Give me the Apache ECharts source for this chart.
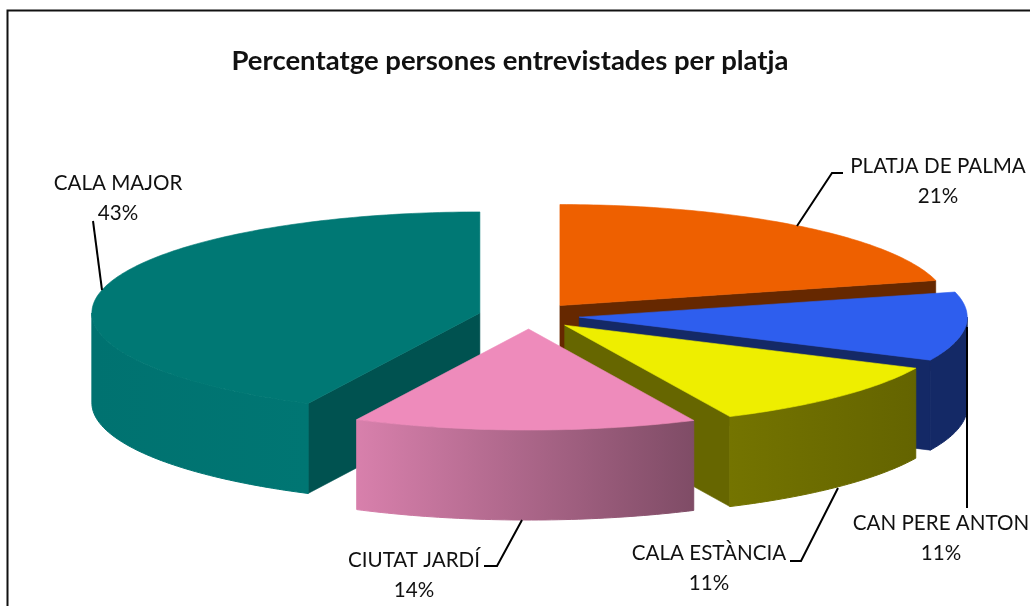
<!DOCTYPE html>
<html>
<head>
<meta charset="utf-8">
<style>
html, body { margin: 0; padding: 0; background: #fff; }
#chart { width: 1030px; height: 606px; }
</style>
<script src="https://cdn.jsdelivr.net/npm/echarts@6/dist/echarts.min.js"></script>
</head>
<body>
<div id="chart"></div>
<script>
const chartTitle = 'Percentatge persones entrevistades per platja';
const categories = ['PLATJA DE PALMA', 'CAN PERE ANTON', 'CALA ESTÀNCIA', 'CIUTAT JARDÍ', 'CALA MAJOR'];
// the labels show these rounded
const values = [21, 11, 11, 14.3, 42.7];

// top face, side walls, outer wall gradient left -> right
const topColors = ['#ee6000', '#2e5eee', '#eeee00', '#ee8bbb', '#007874'];
const sideColors = ['#662800', '#142966', '#666600', '#7f4c66', '#005250'];
const wallFrom = ['#ee6000', '#142966', '#747400', '#d880ac', '#007270'];
const wallTo = ['#662800', '#142966', '#646400', '#7f4c66', '#007673'];

// pie layout in pixels
const CX = 529, CY = 315.9, RX = 388, RY = 101, DEPTH = 90, EXPLODE = 0.13;

// label centre and leader line for each category
const labelPos = [[938, 181], [941, 538.5], [709, 568], [414, 575], [118, 198]];
const leaders = [
    [[797, 226], [832, 173], [843, 173]],
    [[967, 327], [967, 508]],
    [[838, 488], [801, 561], [790, 561]],
    [[522, 520], [497, 566], [484, 566]],
    [[93, 221], [102, 290]]
];

const total = values.reduce((a, b) => a + b, 0);
const slices = [];
let acc = 0;
values.forEach((v, i) => {
    const start = acc / total * 360;
    acc += v;
    const end = acc / total * 360;
    const mid = (start + end) / 2 * Math.PI / 180;
    slices.push({
        index: i,
        start: start,
        end: end,
        cx: CX + RX * EXPLODE * Math.sin(mid),
        cy: CY - RY * EXPLODE * Math.cos(mid)
    });
});

function rimPoint(s, deg, drop) {
    const a = deg * Math.PI / 180;
    return [s.cx + RX * Math.sin(a), s.cy - RY * Math.cos(a) + drop];
}

function arcPoints(s, from, to, drop) {
    const pts = [];
    const n = Math.max(2, Math.ceil(to - from));
    for (let k = 0; k <= n; k++) {
        pts.push(rimPoint(s, from + (to - from) * k / n, drop));
    }
    return pts;
}

function edgeWall(s, deg, color) {
    const p = rimPoint(s, deg, 0);
    return {
        type: 'polygon',
        shape: {points: [[s.cx, s.cy], p, [p[0], p[1] + DEPTH], [s.cx, s.cy + DEPTH]]},
        style: {fill: color, stroke: color, lineWidth: 0.6}
    };
}

function renderSlice(params, api) {
    const s = slices[api.value(0)];
    const i = s.index;
    const children = [];
    // edge walls facing the viewer
    if (s.end < 180) {
        children.push(edgeWall(s, s.end, sideColors[i]));
    }
    if (s.start > 180) {
        children.push(edgeWall(s, s.start, sideColors[i]));
    }
    // outer wall, front half of the rim only
    const from = Math.max(s.start, 90);
    const to = Math.min(s.end, 270);
    if (to > from) {
        const wall = arcPoints(s, from, to, 0).concat(arcPoints(s, from, to, DEPTH).reverse());
        const grad = new echarts.graphic.LinearGradient(0, 0, 1, 0, [
            {offset: 0, color: wallFrom[i]},
            {offset: 1, color: wallTo[i]}
        ]);
        children.push({
            type: 'polygon',
            shape: {points: wall},
            style: {fill: grad, stroke: grad, lineWidth: 1}
        });
    }
    children.push({
        type: 'polygon',
        shape: {points: [[s.cx, s.cy]].concat(arcPoints(s, s.start, s.end, 0))},
        style: {fill: topColors[i], stroke: topColors[i], lineWidth: 0.6}
    });
    return {type: 'group', children: children};
}

function renderLabel(params, api) {
    const i = api.value(0);
    return {
        type: 'group',
        children: [
            {
                type: 'polyline',
                shape: {points: leaders[i]},
                style: {stroke: '#000', lineWidth: 2, fill: null}
            },
            {
                type: 'text',
                x: labelPos[i][0],
                y: labelPos[i][1],
                style: {
                    text: categories[i] + '\n' + Math.round(values[i]) + '%',
                    font: '20.6px Lato',
                    lineHeight: 30,
                    fill: '#111',
                    align: 'center',
                    verticalAlign: 'middle'
                }
            }
        ]
    };
}

// painter's order, the slices furthest back first
const drawOrder = slices.slice().sort((a, b) => a.cy - b.cy).map(s => [s.index]);

const myChart = echarts.init(document.getElementById('chart'), null, {renderer: 'canvas'});
myChart.setOption({
    animation: false,
    backgroundColor: '#fff',
    title: {
        text: chartTitle,
        left: 510,
        top: 56,
        textAlign: 'center',
        textVerticalAlign: 'middle',
        padding: [5, 10, 5, 0],
        textStyle: {fontFamily: 'Lato', fontSize: 27.5, fontWeight: 'bold', color: '#111'}
    },
    graphic: [{
        type: 'polyline',
        silent: true,
        shape: {points: [[7.5, 606], [7.5, 10.5], [1030, 10.5]]},
        style: {stroke: '#111', lineWidth: 2, fill: null}
    }],
    series: [
        {
            type: 'custom',
            coordinateSystem: 'none',
            renderItem: renderSlice,
            data: drawOrder,
            z: 2
        },
        {
            type: 'custom',
            coordinateSystem: 'none',
            renderItem: renderLabel,
            data: categories.map((c, i) => [i]),
            z: 3
        }
    ]
});
</script>
</body>
</html>
